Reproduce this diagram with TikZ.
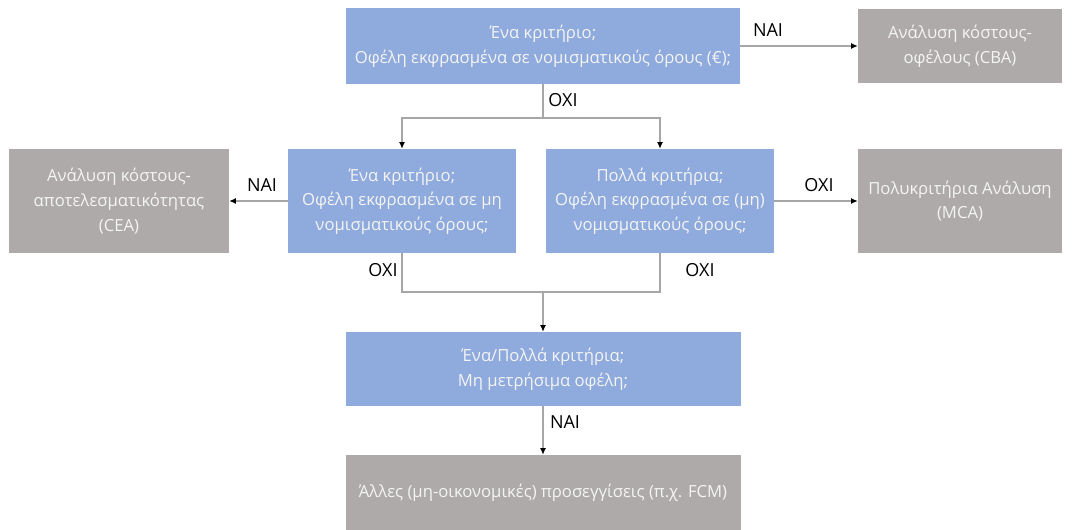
\documentclass[tikz,border=0pt]{standalone}
\usepackage{fontspec}
\setmainfont{Open Sans}
\usetikzlibrary{arrows.meta}
\definecolor{boxblue}{HTML}{8FAADC}
\definecolor{boxgray}{HTML}{AEAAAA}
\definecolor{linegray}{HTML}{A6A6A6}
\definecolor{txtw}{HTML}{F4F4F4}
\begin{document}
\begin{tikzpicture}[x=0.75pt,y=-0.75pt,
  base/.style={draw=none,rectangle,inner sep=2pt,align=center,text=txtw,
    font=\fontsize{12.5}{18.5}\selectfont},
  qbox/.style={base,fill=boxblue},
  abox/.style={base,fill=boxgray},
  arr/.style={draw=linegray,line width=0.8pt,-{Latex[black,length=5pt,width=4.5pt]}},
  ln/.style={draw=linegray,line width=0.8pt},
  lbl/.style={font=\fontsize{13.5}{16}\selectfont,text=black,inner sep=0pt}]
\useasboundingbox (0,0) rectangle (1072,530);
\node[qbox,minimum width=394*0.75pt,minimum height=76*0.75pt] (top) at (543,46)
  {Ένα κριτήριο;\\Οφέλη εκφρασμένα σε νομισματικούς όρους (€);};
\node[abox,minimum width=204*0.75pt,minimum height=74*0.75pt] (cba) at (960,46)
  {Ανάλυση κόστους-\\οφέλους (CBA)};
\node[qbox,minimum width=228*0.75pt,minimum height=104*0.75pt] (l) at (402,201)
  {Ένα κριτήριο;\\Οφέλη εκφρασμένα σε μη\\νομισματικούς όρους;};
\node[qbox,minimum width=228*0.75pt,minimum height=104*0.75pt] (r) at (660,201)
  {Πολλά κριτήρια;\\Οφέλη εκφρασμένα σε (μη)\\νομισματικούς όρους;};
\node[abox,minimum width=220*0.75pt,minimum height=104*0.75pt] (cea) at (119,201)
  {Ανάλυση κόστους-\\αποτελεσματικότητας\\(CEA)};
\node[abox,minimum width=204*0.75pt,minimum height=104*0.75pt] (mca) at (960,201)
  {Πολυκριτήρια Ανάλυση\\(MCA)};
\node[qbox,minimum width=395*0.75pt,minimum height=74*0.75pt] (bb) at (543,369)
  {Ένα/Πολλά κριτήρια;\\Μη μετρήσιμα οφέλη;};
\node[abox,minimum width=395*0.75pt,minimum height=76*0.75pt] (bg) at (543,493)
  {Άλλες (μη-οικονομικές) προσεγγίσεις (π.χ. FCM)};
\coordinate (j1) at (543,118);
\coordinate (j2) at (543,292);
\draw[arr] (top.east) -- (cba.west);
\draw[ln] (top.south) -- (j1);
\draw[arr] (j1) -| (l.north);
\draw[arr] (j1) -| (r.north);
\draw[arr] (l.west) -- (cea.east);
\draw[arr] (r.east) -- (mca.west);
\draw[ln] (l.south) |- (j2) -| (r.south);
\draw[arr] (j2) -- (bb.north);
\draw[arr] (bb.south) -- (bg.north);
\node[lbl] (t1) at (768,30) {ΝΑΙ};
\node[lbl] (t2) at (563,100) {ΟΧΙ};
\node[lbl] (t3) at (262,185) {ΝΑΙ};
\node[lbl] (t4) at (819,185) {ΟΧΙ};
\node[lbl] (t5) at (383,270) {ΟΧΙ};
\node[lbl] (t6) at (700,270) {ΟΧΙ};
\node[lbl] (t7) at (565,422) {ΝΑΙ};
\end{tikzpicture}
\end{document}
